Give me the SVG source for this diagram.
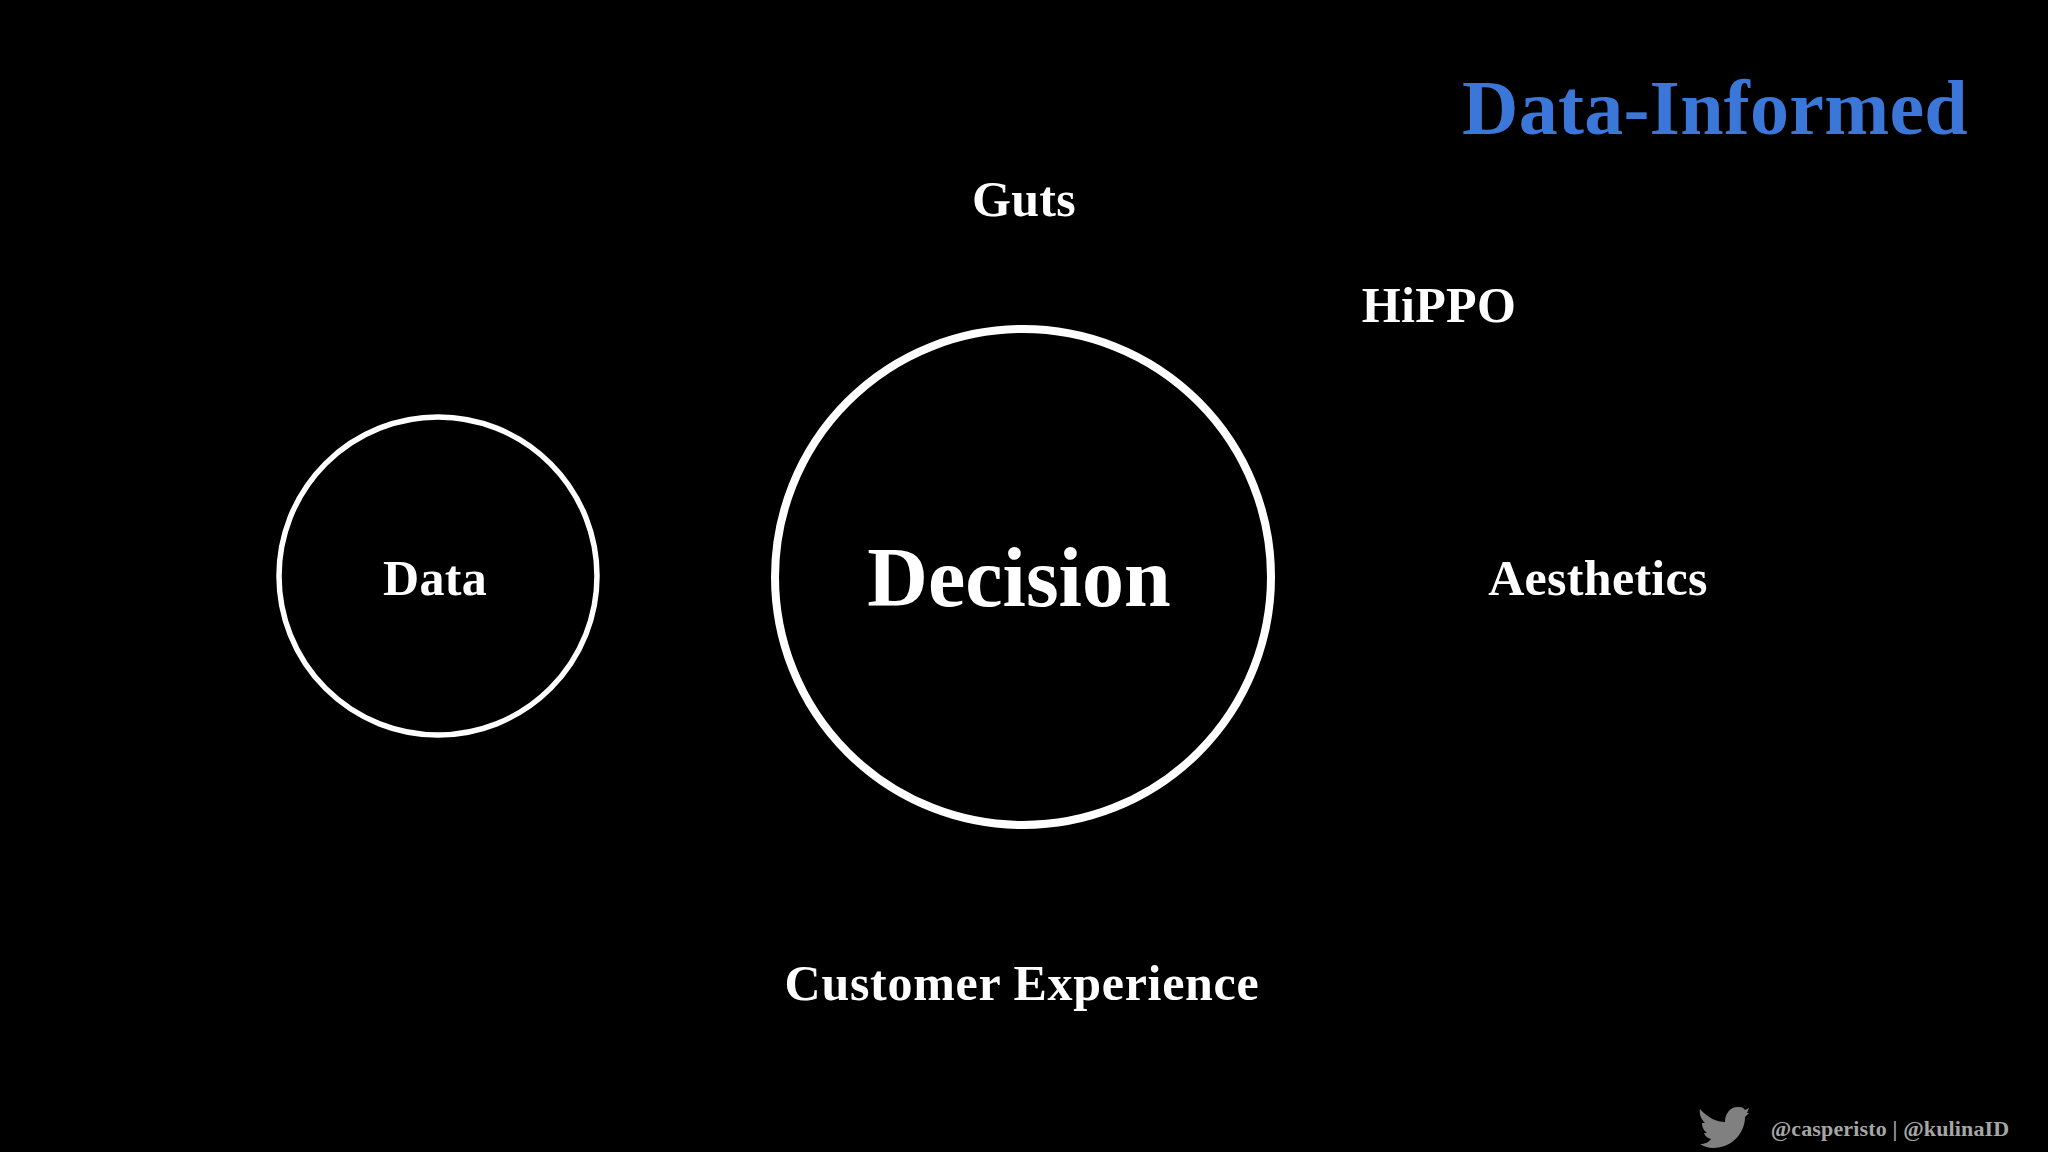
<svg xmlns="http://www.w3.org/2000/svg" width="2048" height="1152" viewBox="0 0 2048 1152">
<style>
text{font-family:"Liberation Serif","Times New Roman",serif;font-weight:700;fill:#fff;text-anchor:middle}
.c{fill:none;stroke:#fff}
.l{font-size:50px;letter-spacing:.3px}
</style>
<rect width="2048" height="1152" fill="#000"/>
<g id="title"><text x="1715" y="134" font-size="78" letter-spacing=".25" style="fill:#3b76d9">Data-Informed</text></g>
<g id="guts"><text class="l" x="1024" y="216">Guts</text></g>
<g id="hippo"><text class="l" x="1439" y="322">HiPPO</text></g>
<g id="data"><circle class="c" cx="438" cy="576" r="159" stroke-width="5.5"/><text class="l" x="435" y="595">Data</text></g>
<g id="decision"><circle class="c" cx="1023" cy="577" r="248" stroke-width="8"/><text x="1019" y="606" font-size="84">Decision</text></g>
<g id="aesthetics"><text class="l" x="1598" y="595">Aesthetics</text></g>
<g id="customer"><text x="1022" y="1000" font-size="50" letter-spacing=".7">Customer Experience</text></g>
<g id="credit"><path d="M1700 1109C1708 1118 1717 1122 1725 1122C1725 1112 1732 1106 1739 1107C1742 1107 1744 1108 1745 1110L1749 1108L1747 1113L1749 1113L1745 1117C1745 1133 1732 1148 1713 1148C1708 1148 1703 1146 1700 1144C1705 1144 1709 1142 1711 1139C1707 1138 1705 1136 1704 1133L1707 1133C1703 1130 1702 1126 1702 1123L1705 1123C1701 1119 1699 1114 1700 1109Z" fill="#808080"/><text x="1890" y="1136" font-size="22" letter-spacing=".15" style="fill:#a6a6a6">@casperisto | @kulinaID</text></g>
<g id="connectors"></g>
</svg>
